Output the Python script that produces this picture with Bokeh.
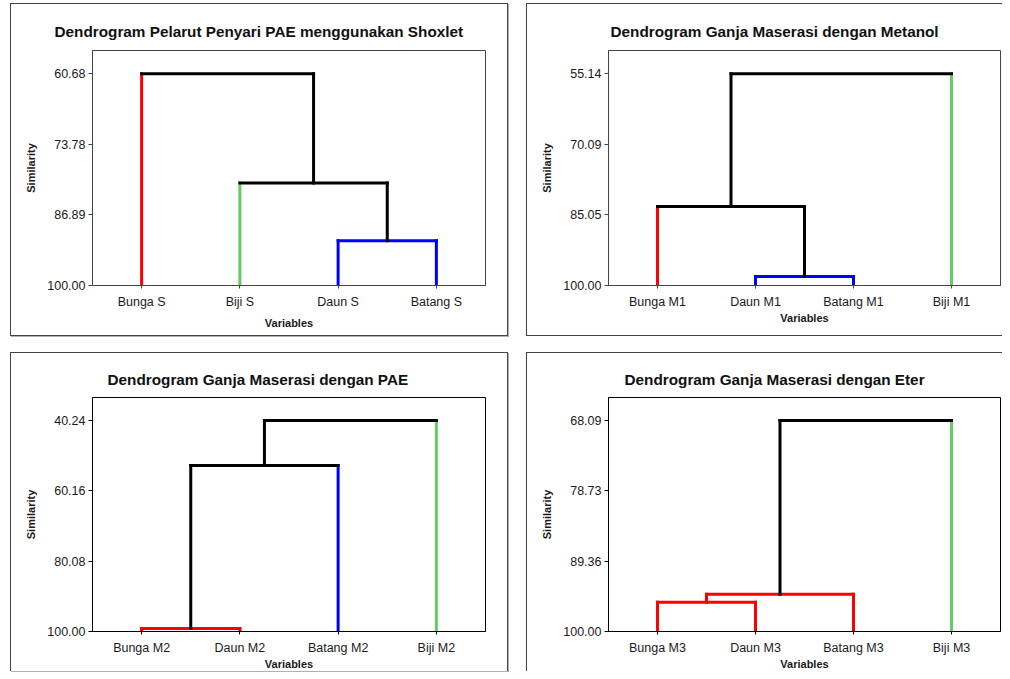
from bokeh.plotting import figure
from bokeh.layouts import row, column
from bokeh.models import Range1d, FixedTicker, NumeralTickFormatter, ColumnDataSource
from bokeh.embed import file_html
from bokeh.resources import INLINE

# ---------------- data ----------------
title_1 = "Dendrogram Pelarut Penyari PAE menggunakan Shoxlet"
labels_1 = ["Bunga S", "Biji S", "Daun S", "Batang S"]
groups_1 = ["red", "green", "blue", "blue"]
merges_1 = [(2, 3, 91.70), (1, 4, 80.96), (0, 5, 60.68)]
ticks_1 = [60.68, 73.78, 86.89, 100.00]

title_2 = "Dendrogram Ganja Maserasi dengan Metanol"
labels_2 = ["Bunga M1", "Daun M1", "Batang M1", "Biji M1"]
groups_2 = ["red", "blue", "blue", "green"]
merges_2 = [(1, 2, 98.08), (0, 4, 83.27), (5, 3, 55.14)]
ticks_2 = [55.14, 70.09, 85.05, 100.00]

title_3 = "Dendrogram Ganja Maserasi dengan PAE"
labels_3 = ["Bunga M2", "Daun M2", "Batang M2", "Biji M2"]
groups_3 = ["red", "red", "blue", "green"]
merges_3 = [(0, 1, 99.15), (4, 2, 52.96), (5, 3, 40.24)]
ticks_3 = [40.24, 60.16, 80.08, 100.00]

title_4 = "Dendrogram Ganja Maserasi dengan Eter"
labels_4 = ["Bunga M3", "Daun M3", "Batang M3", "Biji M3"]
groups_4 = ["red", "red", "red", "green"]
merges_4 = [(0, 1, 95.56), (4, 2, 94.38), (5, 3, 68.09)]
ticks_4 = [68.09, 78.73, 89.36, 100.00]

# ---------------- style ----------------
COLORS = {"red": "#ff0000", "green": "#66cc66", "blue": "#0000ff"}
FONT = "Liberation Sans"


def segments(merges, groups):
    n = len(groups)
    xs = [float(i + 1) for i in range(n)]
    hs = [100.0] * n
    grp = list(groups)
    d = {"x0": [], "y0": [], "x1": [], "y1": [], "c": []}

    def add(x0, y0, x1, y1, c):
        d["x0"].append(x0); d["y0"].append(y0)
        d["x1"].append(x1); d["y1"].append(y1); d["c"].append(c)

    for a, b, h in merges:
        g = grp[a] if (grp[a] is not None and grp[a] == grp[b]) else None
        for node in (a, b):
            if node < n:
                c = COLORS[groups[node]]
            else:
                c = COLORS[g] if g else "black"
            add(xs[node], hs[node], xs[node], h, c)
        add(xs[a], h, xs[b], h, COLORS[g] if g else "black")
        xs.append((xs[a] + xs[b]) / 2.0)
        hs.append(h)
        grp.append(g)
    return d


def make_panel(title, labels, groups, merges, ticks, borders, frame_col,
               title_offset, title_standoff, xlabel_standoff, sides, shadow):
    top = ticks[0] - (100.0 - ticks[0]) / 3.0 * 23.0 / 70.0
    left, right, btop, bbot = borders
    css = {}
    for s in sides:
        css["border-" + s] = "1px solid #444"
    if shadow:
        css["box-shadow"] = "1px 1px 0 #b0b0b0"
    p = figure(frame_width=391, frame_height=233,
               min_border_left=left, min_border_right=right,
               min_border_top=btop, min_border_bottom=bbot,
               x_range=Range1d(0.5, 4.5), y_range=Range1d(100.0, top),
               output_backend="svg", toolbar_location=None, tools="",
               title=title, styles=css)
    src = ColumnDataSource(segments(merges, groups))
    p.segment("x0", "y0", "x1", "y1", source=src, line_color="c",
              line_width=3, line_cap="square")

    p.title.text_font = FONT
    p.title.text_font_size = "15.3px"
    p.title.text_font_style = "bold"
    p.title.text_color = "#111111"
    p.title.align = "left"
    p.title.offset = title_offset
    p.title.standoff = title_standoff

    p.grid.visible = False
    p.outline_line_color = frame_col
    p.outline_line_width = 1
    p.background_fill_color = "white"
    p.border_fill_color = "white"

    xa = p.xaxis[0]
    xa.ticker = FixedTicker(ticks=[1, 2, 3, 4])
    xa.major_label_overrides = {i + 1: lab for i, lab in enumerate(labels)}
    xa.major_tick_out = 3
    xa.major_tick_in = 0
    xa.minor_tick_out = 0
    xa.minor_tick_in = 0
    xa.major_label_standoff = 6
    xa.axis_label = "Variables"
    xa.axis_label_standoff = xlabel_standoff

    ya = p.yaxis[0]
    ya.ticker = FixedTicker(ticks=ticks)
    ya.formatter = NumeralTickFormatter(format="0.00")
    ya.major_tick_out = 4
    ya.major_tick_in = 0
    ya.minor_tick_out = 0
    ya.minor_tick_in = 0
    ya.major_label_standoff = 3
    ya.axis_label = "Similarity"
    ya.axis_label_standoff = 7

    for ax in (xa, ya):
        ax.axis_line_color = frame_col
        ax.major_tick_line_color = frame_col
        ax.major_label_text_font = FONT
        ax.major_label_text_font_size = "12.5px"
        ax.major_label_text_color = "#1a1a1a"
        ax.axis_label_text_font = FONT
        ax.axis_label_text_font_size = "11px"
        ax.axis_label_text_font_style = "bold"
        ax.axis_label_text_color = "#1a1a1a"
    return p


p1 = make_panel(title_1, labels_1, groups_1, merges_1, ticks_1,
                (81, 24, 46, 52), "#444444", -38, 22, 5,
                ["left", "top", "right", "bottom"], True)
p2 = make_panel(title_2, labels_2, groups_2, merges_2, ticks_2,
                (81, 3, 46, 52), "#444444", 2, 22, 0,
                ["left", "top", "bottom"], False)
p3 = make_panel(title_3, labels_3, groups_3, merges_3, ticks_3,
                (81, 24, 44, 41), "black", 15, 20, 0,
                ["left", "top", "right"], True)
p4 = make_panel(title_4, labels_4, groups_4, merges_4, ticks_4,
                (81, 3, 44, 41), "black", 16, 20, 0,
                ["left", "top"], False)

p1.margin = (3, 0, 0, 10)
p2.margin = (3, 0, 0, 0)
p3.margin = (0, 0, 0, 10)
layout = column(row(p1, p2, spacing=18), row(p3, p4, spacing=18), spacing=16)

open("out.html", "w").write(file_html(layout, INLINE))
